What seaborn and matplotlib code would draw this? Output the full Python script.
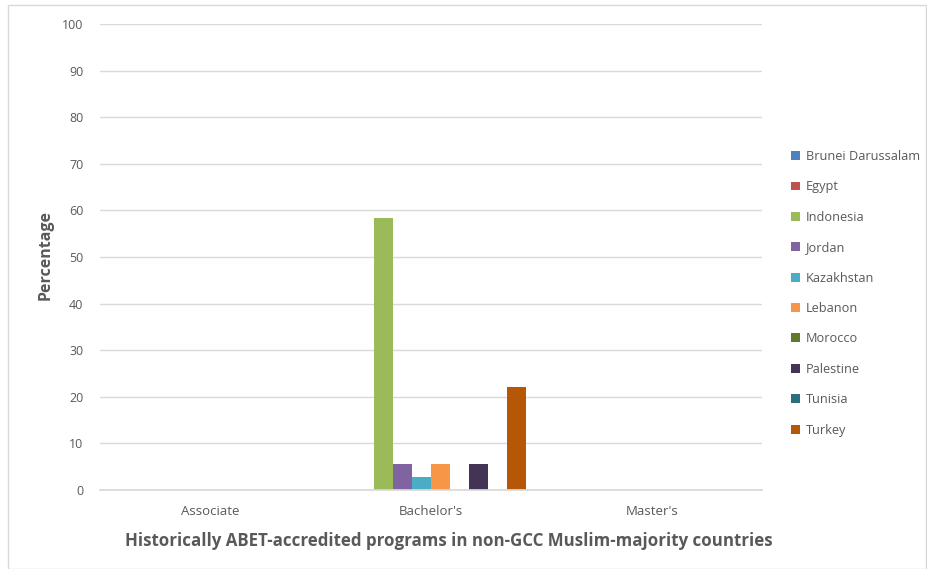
import pandas as pd
import numpy as np
import matplotlib

matplotlib.use('Agg')
import matplotlib.pyplot as plt
import seaborn as sns
from matplotlib.patches import Rectangle

# 数据
levels = ["Associate", "Bachelor's", "Master's"]
countries = ["Brunei Darussalam", "Egypt", "Indonesia", "Jordan", "Kazakhstan",
             "Lebanon", "Morocco", "Palestine", "Tunisia", "Turkey"]
associate_pct = [0, 0, 0, 0, 0, 0, 0, 0, 0, 0]
bachelor_pct = [0, 0, 58.3, 5.6, 2.8, 5.6, 0, 5.6, 0, 22.2]
master_pct = [0, 0, 0, 0, 0, 0, 0, 0, 0, 0]
colors = ["#4F81BD", "#C0504D", "#9BBB59", "#8064A2", "#4BACC6",
          "#F79646", "#5E7A2E", "#433456", "#2C6E7E", "#B65708"]

rows = []
for lvl, vals in zip(levels, [associate_pct, bachelor_pct, master_pct]):
    for c, v in zip(countries, vals):
        rows.append({"Level": lvl, "Country": c, "Percentage": v})
df = pd.DataFrame(rows)

sns.set_theme(style="white")
plt.rcParams['font.family'] = ['Open Sans', 'DejaVu Sans']
grey = "#595959"

fig = plt.figure(figsize=(9.28, 5.69), dpi=100)
ax = fig.add_axes([100 / 928, 1 - 490 / 569, 662 / 928, 466 / 569])

sns.barplot(data=df, x="Level", y="Percentage", hue="Country", hue_order=countries,
            palette=colors, width=0.86, saturation=1, ax=ax, legend=False,
            edgecolor="none", linewidth=0)

ax.set_ylim(0, 100)
ax.set_xlim(-0.5, 2.5)
ax.set_yticks(np.arange(0, 101, 10))
ax.yaxis.grid(True, color="#D9D9D9", linewidth=1)
ax.set_axisbelow(True)
for s in ["top", "right", "left"]:
    ax.spines[s].set_visible(False)
ax.spines["bottom"].set_color("#D9D9D9")
ax.tick_params(axis="y", length=0, labelsize=9, labelcolor=grey, pad=12)
ax.tick_params(axis="x", which="major", length=0, labelsize=9.5, labelcolor=grey, pad=11)
ax.set_xticks([-0.5, 0.5, 1.5, 2.5], minor=True)
ax.tick_params(axis="x", which="minor", length=5, color="#D9D9D9", width=1)

ax.set_ylabel("Percentage", fontsize=11.5, fontweight="bold", color=grey)
ax.yaxis.set_label_coords(-(100 - 54) / 662, (490 - 255) / 466)
ax.set_xlabel("Historically ABET-accredited programs in non-GCC Muslim-majority countries",
              fontsize=12.2, fontweight="bold", color=grey)
ax.xaxis.set_label_coords((449 - 100) / 662, -(540 - 490 - 8) / 466)

# 图例
handles = [Rectangle((0, 0), 1, 1, facecolor=c, edgecolor="none") for c in colors]
fig.legend(handles, countries, loc="upper left", bbox_to_anchor=(786 / 928, 1 - 145 / 569),
           frameon=False, fontsize=9.2, labelcolor=grey, handlelength=0.7, handleheight=0.7,
           handletextpad=0.45, labelspacing=1.36, borderaxespad=0)

# 外边框
fig.patches.append(Rectangle((8 / 928, 0.0), 1 - 8 / 928 - 0.002, 1 - 5 / 569,
                             transform=fig.transFigure, fill=False,
                             edgecolor="#D9D9D9", linewidth=1))

fig.savefig("out.png", dpi=100)
plt.close()
